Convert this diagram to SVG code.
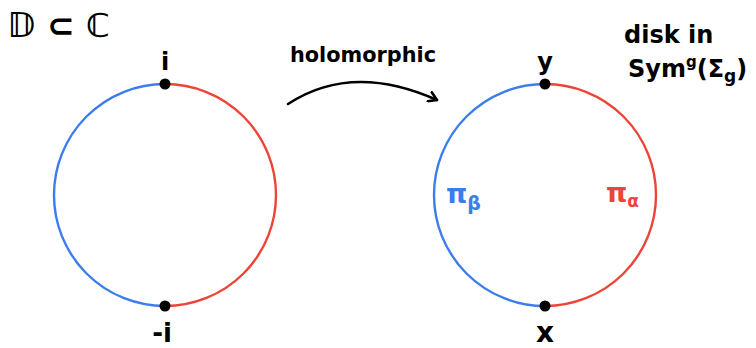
<svg xmlns="http://www.w3.org/2000/svg" width="756" height="348" viewBox="0 0 756 348">
<style>
.b{fill:none;stroke:#3b7ded;stroke-width:2.4}
.r{fill:none;stroke:#ec4436;stroke-width:2.4}
.t{font-family:"DejaVu Sans","Liberation Sans",sans-serif;fill:#000;font-weight:bold}
.dot{fill:#000}
</style>
<defs>
<marker id="ah" viewBox="0 0 12 12" refX="9" refY="6" markerWidth="12" markerHeight="12" markerUnits="userSpaceOnUse" orient="auto">
<path d="M1,1 L9,6 L1,11" fill="none" stroke="#000" stroke-width="2.6" stroke-linecap="round" stroke-linejoin="round"/>
</marker>
</defs>
<rect width="756" height="348" fill="#fff"/>
<text class="t" x="8" y="37" font-size="33" font-weight="normal">𝔻 ⊂ ℂ</text>
<g id="left-disk">
<path class="b" d="M165,84 A111,111 0 0 0 165,306"/>
<path class="r" d="M165,84 A111,111 0 0 1 165,306"/>
<circle class="dot" cx="165" cy="84" r="5.5"/>
<circle class="dot" cx="165" cy="306" r="5.5"/>
<text class="t" x="165" y="70" font-size="24" text-anchor="middle">i</text>
<text class="t" x="162" y="342" font-size="26" text-anchor="middle">-i</text>
</g>
<g id="right-disk">
<path class="b" d="M545,84 A111,111 0 0 0 545,306"/>
<path class="r" d="M545,84 A111,111 0 0 1 545,306"/>
<circle class="dot" cx="545" cy="84" r="5.5"/>
<circle class="dot" cx="545" cy="306" r="5.5"/>
<text class="t" x="545" y="70" font-size="24" text-anchor="middle">y</text>
<text class="t" x="545" y="342" font-size="28" text-anchor="middle">x</text>
<text x="446" y="203" font-size="27" font-weight="bold" font-family="DejaVu Sans, sans-serif" fill="#3b7ded">π<tspan font-size="19" dy="7">β</tspan></text>
<text x="606" y="202" font-size="27" font-weight="bold" font-family="DejaVu Sans, sans-serif" fill="#ec4436">π<tspan font-size="17" dy="5">α</tspan></text>
</g>
<g id="labels">
<text class="t" x="624" y="43" font-size="24">disk in</text>
<text class="t" x="628" y="77" font-size="24">Sym<tspan font-size="15" dy="-10">g</tspan><tspan dy="10">(Σ</tspan><tspan font-size="17" dy="5">g</tspan><tspan dy="-5">)</tspan></text>
<text class="t" x="290" y="62" font-size="22" textLength="146" lengthAdjust="spacingAndGlyphs">holomorphic</text>
</g>
<g id="connectors">
<path d="M288,104 Q352,62 437,100" fill="none" stroke="#000" stroke-width="2.6" stroke-linecap="round" marker-end="url(#ah)"/>
</g>
</svg>
